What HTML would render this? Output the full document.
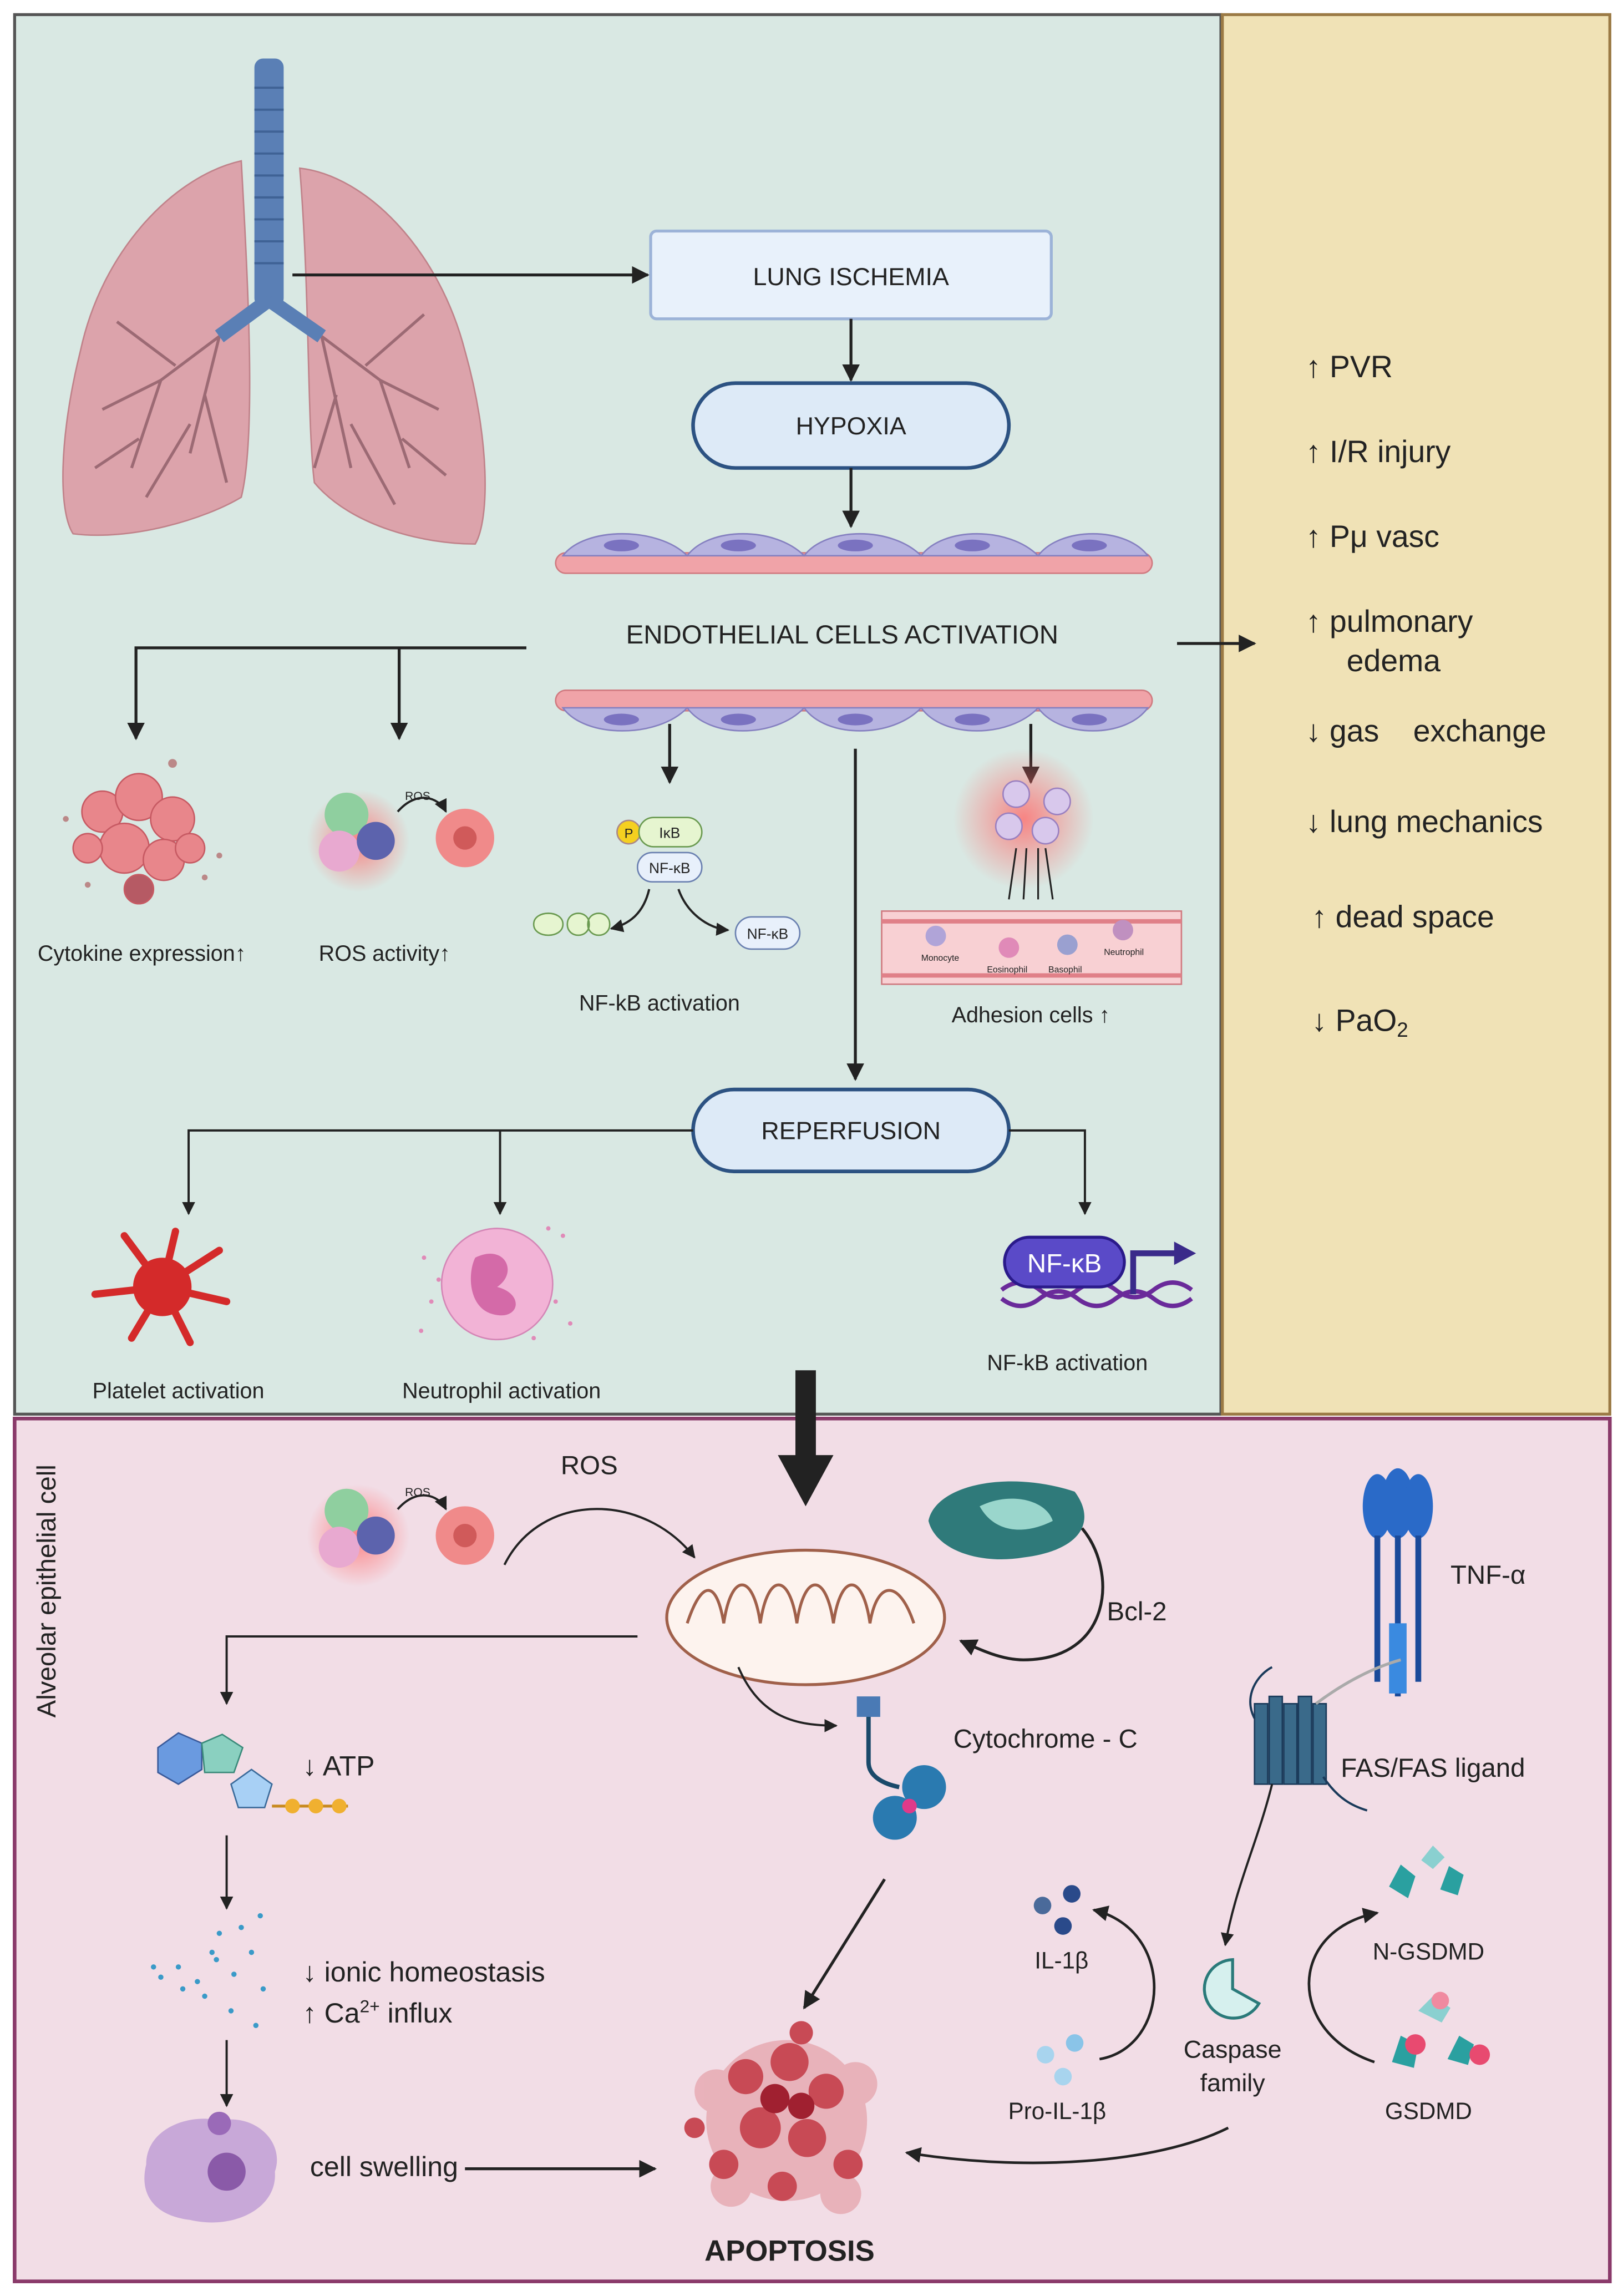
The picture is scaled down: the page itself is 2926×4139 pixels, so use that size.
<!DOCTYPE html>
<html><head><meta charset="utf-8"><style>
html,body{margin:0;padding:0;background:#fff}
svg{display:block}
text{font-family:"Liberation Sans",sans-serif;fill:#222}
</style></head><body>
<svg width="2926" height="4139" viewBox="0 0 1110 1570" preserveAspectRatio="none" xmlns="http://www.w3.org/2000/svg">
<defs>
<marker id="ah" viewBox="0 0 10 10" refX="9" refY="5" markerWidth="6" markerHeight="6" orient="auto"><path d="M0,0 L10,5 L0,10 z" fill="#222"/></marker>
<radialGradient id="glow"><stop offset="0" stop-color="#ff6b6b" stop-opacity=".8"/><stop offset="1" stop-color="#ff6b6b" stop-opacity="0"/></radialGradient>
</defs>
<rect width="1110" height="1570" fill="#fff"/>
<rect x="10" y="10" width="825" height="957" fill="#d9e8e3" stroke="#555" stroke-width="2"/>
<rect x="836" y="10" width="265" height="957" fill="#f0e2b6" stroke="#9b7a45" stroke-width="2"/>
<rect x="10" y="970" width="1091" height="590" fill="#f2dde6" stroke="#8a3a6a" stroke-width="2.5"/>

<!-- lungs -->
<path d="M165,110 C120,120 70,170 55,240 C40,300 40,350 50,365 C90,370 140,355 165,340 C175,300 170,200 165,110z" fill="#dca3ab" stroke="#c0828a"/>
<path d="M205,115 C250,120 300,170 318,240 C335,300 335,355 325,372 C290,372 240,360 215,330 C210,290 212,200 205,115z" fill="#dca3ab" stroke="#c0828a"/>
<path d="M150,230 L110,260 L90,320 M150,230 L130,310 M110,260 L70,280 M120,250 L80,220 M130,290 L100,340 M95,300 L65,320 M140,270 L155,330 M220,230 L260,260 L280,320 M220,230 L240,320 M260,260 L300,280 M250,250 L290,215 M240,290 L270,345 M275,300 L305,325 M230,270 L215,320" stroke="#9c6a74" stroke-width="2" fill="none"/>
<rect x="174" y="40" width="20" height="170" rx="6" fill="#5a7fb5"/>
<g stroke="#3f6295" stroke-width="1.5"><line x1="174" y1="60" x2="194" y2="60"/><line x1="174" y1="75" x2="194" y2="75"/><line x1="174" y1="90" x2="194" y2="90"/><line x1="174" y1="105" x2="194" y2="105"/><line x1="174" y1="120" x2="194" y2="120"/><line x1="174" y1="135" x2="194" y2="135"/><line x1="174" y1="150" x2="194" y2="150"/><line x1="174" y1="165" x2="194" y2="165"/><line x1="174" y1="180" x2="194" y2="180"/></g>
<path d="M184,205 L150,230 M184,205 L220,230" stroke="#5a7fb5" stroke-width="10"/>

<line x1="200" y1="188" x2="443" y2="188" stroke="#222" stroke-width="2" marker-end="url(#ah)"/>
<rect x="445" y="158" width="274" height="60" rx="4" fill="#e8f1fb" stroke="#9cb3d8" stroke-width="2"/>
<text x="582" y="195" font-size="17" text-anchor="middle">LUNG ISCHEMIA</text>
<line x1="582" y1="218" x2="582" y2="260" stroke="#222" stroke-width="2" marker-end="url(#ah)"/>
<rect x="474" y="262" width="216" height="58" rx="29" fill="#ddeaf7" stroke="#2c5282" stroke-width="2.5"/>
<text x="582" y="297" font-size="17" text-anchor="middle">HYPOXIA</text>
<line x1="582" y1="320" x2="582" y2="360" stroke="#222" stroke-width="2" marker-end="url(#ah)"/>

<g>
<rect x="380" y="378" width="408" height="14" rx="7" fill="#f0a3a8" stroke="#d07a80"/>
<path d="M385,380 C400,360 450,360 470,380 C485,360 530,360 550,380 C565,360 610,360 630,380 C645,360 690,360 710,380 C725,360 770,360 785,380z" fill="#b6b3e0" stroke="#8580c0"/>
<ellipse cx="425" cy="373" rx="12" ry="4" fill="#7a72c0"/><ellipse cx="505" cy="373" rx="12" ry="4" fill="#7a72c0"/><ellipse cx="585" cy="373" rx="12" ry="4" fill="#7a72c0"/><ellipse cx="665" cy="373" rx="12" ry="4" fill="#7a72c0"/><ellipse cx="745" cy="373" rx="12" ry="4" fill="#7a72c0"/>
<rect x="380" y="472" width="408" height="14" rx="7" fill="#f0a3a8" stroke="#d07a80"/>
<path d="M385,484 C400,505 450,505 470,484 C485,505 530,505 550,484 C565,505 610,505 630,484 C645,505 690,505 710,484 C725,505 770,505 785,484z" fill="#b6b3e0" stroke="#8580c0"/>
<ellipse cx="425" cy="492" rx="12" ry="4" fill="#7a72c0"/><ellipse cx="505" cy="492" rx="12" ry="4" fill="#7a72c0"/><ellipse cx="585" cy="492" rx="12" ry="4" fill="#7a72c0"/><ellipse cx="665" cy="492" rx="12" ry="4" fill="#7a72c0"/><ellipse cx="745" cy="492" rx="12" ry="4" fill="#7a72c0"/>
</g>
<text x="576" y="440" font-size="18" text-anchor="middle">ENDOTHELIAL CELLS ACTIVATION</text>
<line x1="805" y1="440" x2="858" y2="440" stroke="#222" stroke-width="2" marker-end="url(#ah)"/>

<path d="M360,443 H93 V505" stroke="#222" stroke-width="2" fill="none" marker-end="url(#ah)"/>
<line x1="273" y1="443" x2="273" y2="505" stroke="#222" stroke-width="2" marker-end="url(#ah)"/>
<g fill="#e8868b" stroke="#c75a63">
<circle cx="70" cy="555" r="14"/><circle cx="95" cy="545" r="16"/><circle cx="118" cy="560" r="15"/><circle cx="85" cy="580" r="17"/><circle cx="112" cy="588" r="14"/><circle cx="60" cy="580" r="10"/><circle cx="130" cy="580" r="10"/><circle cx="95" cy="608" r="10" fill="#b65a64"/>
</g>
<g fill="#b88"><circle cx="45" cy="560" r="2"/><circle cx="150" cy="585" r="2"/><circle cx="118" cy="522" r="3"/><circle cx="140" cy="600" r="2"/><circle cx="60" cy="605" r="2"/></g>
<text x="97" y="657" font-size="15" text-anchor="middle">Cytokine expression↑</text>
<circle cx="245" cy="575" r="35" fill="url(#glow)"/>
<circle cx="237" cy="557" r="15" fill="#8fcf9f"/><circle cx="232" cy="582" r="14" fill="#e8a9d0"/><circle cx="257" cy="575" r="13" fill="#5c63ad"/>
<circle cx="318" cy="573" r="20" fill="#f08a8a"/><circle cx="318" cy="573" r="8" fill="#d05a5a"/>
<path d="M272,555 C285,540 300,545 305,555" stroke="#222" fill="none" stroke-width="1.5" marker-end="url(#ah)"/>
<text x="277" y="547" font-size="8" fill="#b22">ROS</text>
<text x="263" y="657" font-size="15" text-anchor="middle">ROS  activity↑</text>

<line x1="458" y1="495" x2="458" y2="535" stroke="#222" stroke-width="2" marker-end="url(#ah)"/>
<circle cx="430" cy="569" r="8" fill="#f5d020" stroke="#a88"/><text x="430" y="573" font-size="9" text-anchor="middle">P</text>
<rect x="437" y="559" width="43" height="20" rx="10" fill="#e6f5d0" stroke="#6a9a50"/><text x="458" y="573" font-size="10" text-anchor="middle">IκB</text>
<rect x="436" y="583" width="44" height="20" rx="10" fill="#e8f0fb" stroke="#6a80b0"/><text x="458" y="597" font-size="10" text-anchor="middle">NF-κB</text>
<path d="M444,608 C440,625 430,632 418,635" stroke="#222" fill="none" stroke-width="1.5" marker-end="url(#ah)"/>
<path d="M464,608 C470,625 485,635 498,636" stroke="#222" fill="none" stroke-width="1.5" marker-end="url(#ah)"/>
<path d="M365,632 c0,-10 20,-10 20,0 c0,10 -20,10 -20,0z M388,632 c0,-10 15,-10 15,0 c0,10 -15,10 -15,0z M402,632 c0,-10 15,-10 15,0 c0,10 -15,10 -15,0z" fill="#e6f5d0" stroke="#6a9a50"/>
<rect x="503" y="627" width="44" height="22" rx="11" fill="#e8f0fb" stroke="#6a80b0"/><text x="525" y="642" font-size="10" text-anchor="middle">NF-κB</text>
<text x="451" y="691" font-size="15" text-anchor="middle">NF-kB activation</text>

<line x1="705" y1="495" x2="705" y2="535" stroke="#222" stroke-width="2" marker-end="url(#ah)"/>
<circle cx="700" cy="560" r="48" fill="url(#glow)"/>
<circle cx="695" cy="543" r="9" fill="#d8c8ec" stroke="#9a80c0"/><circle cx="723" cy="548" r="9" fill="#d8c8ec" stroke="#9a80c0"/><circle cx="690" cy="565" r="9" fill="#d8c8ec" stroke="#9a80c0"/><circle cx="715" cy="568" r="9" fill="#d8c8ec" stroke="#9a80c0"/>
<path d="M690,615 L695,580 M700,615 L702,580 M710,615 L710,580 M720,615 L715,580" stroke="#222" stroke-width="1.2"/>
<rect x="603" y="623" width="205" height="50" fill="#f8d0d3" stroke="#d07a80"/>
<line x1="603" y1="630" x2="808" y2="630" stroke="#e08088" stroke-width="3"/><line x1="603" y1="667" x2="808" y2="667" stroke="#e08088" stroke-width="3"/>
<circle cx="640" cy="640" r="7" fill="#b0a4d8"/><circle cx="690" cy="648" r="7" fill="#e08ab8"/><circle cx="730" cy="646" r="7" fill="#9aa0d0"/><circle cx="768" cy="636" r="7" fill="#c090c0"/>
<text x="630" y="657" font-size="6">Monocyte</text><text x="675" y="665" font-size="6">Eosinophil</text><text x="717" y="665" font-size="6">Basophil</text><text x="755" y="653" font-size="6">Neutrophil</text>
<text x="705" y="699" font-size="15" text-anchor="middle">Adhesion cells ↑</text>

<line x1="585" y1="512" x2="585" y2="738" stroke="#222" stroke-width="2" marker-end="url(#ah)"/>
<rect x="474" y="745" width="216" height="56" rx="28" fill="#ddeaf7" stroke="#2c5282" stroke-width="2.5"/>
<text x="582" y="779" font-size="17" text-anchor="middle">REPERFUSION</text>
<path d="M474,773 H129 V830" stroke="#222" stroke-width="1.5" fill="none" marker-end="url(#ah)"/>
<line x1="342" y1="773" x2="342" y2="830" stroke="#222" stroke-width="1.5" marker-end="url(#ah)"/>
<path d="M690,773 H742 V830" stroke="#222" stroke-width="1.5" fill="none" marker-end="url(#ah)"/>
<circle cx="111" cy="880" r="20" fill="#d42a2a"/>
<path d="M111,880 L65,885 M111,880 L85,845 M111,880 L120,842 M111,880 L150,855 M111,880 L155,890 M111,880 L130,918 M111,880 L90,915" stroke="#d42a2a" stroke-width="5" stroke-linecap="round"/>
<text x="122" y="956" font-size="15" text-anchor="middle">Platelet activation</text>
<circle cx="340" cy="878" r="38" fill="#f2b3d6" stroke="#d486b6"/>
<path d="M325,860 C345,850 355,870 340,880 C360,885 355,905 335,898 C320,892 320,870 325,860z" fill="#d46aa8"/>
<g fill="#e08ab8"><circle cx="290" cy="860" r="1.5"/><circle cx="295" cy="890" r="1.5"/><circle cx="385" cy="845" r="1.5"/><circle cx="390" cy="905" r="1.5"/><circle cx="375" cy="840" r="1.5"/><circle cx="288" cy="910" r="1.5"/><circle cx="380" cy="890" r="1.5"/><circle cx="300" cy="875" r="1.5"/><circle cx="365" cy="915" r="1.5"/></g>
<text x="343" y="956" font-size="15" text-anchor="middle">Neutrophil activation</text>
<path d="M685,882 q13,-10 26,0 t26,0 t26,0 t26,0 t26,0" stroke="#6a2a9a" stroke-width="3" fill="none"/>
<path d="M685,888 q13,10 26,0 t26,0 t26,0 t26,0 t26,0" stroke="#6a2a9a" stroke-width="3" fill="none"/>
<rect x="687" y="846" width="82" height="34" rx="17" fill="#5a4ac8" stroke="#2a1a8a" stroke-width="2"/>
<text x="728" y="870" font-size="18" text-anchor="middle" style="fill:#fff">NF-κB</text>
<path d="M775,885 V857 H805" stroke="#3a2a8a" stroke-width="4" fill="none"/><path d="M803,849 L818,857 L803,865z" fill="#3a2a8a"/>
<text x="730" y="937" font-size="15" text-anchor="middle">NF-kB activation</text>

<g font-size="21">
<text x="893" y="258">↑ PVR</text>
<text x="893" y="316">↑ I/R injury</text>
<text x="893" y="374">↑ Pμ vasc</text>
<text x="893" y="432">↑ pulmonary</text>
<text x="921" y="459">edema</text>
<text x="893" y="507">↓ gas&#160;&#160;&#160;&#160;exchange</text>
<text x="893" y="569">↓ lung mechanics</text>
<text x="897" y="634">↑ dead space</text>
<text x="897" y="705">↓ PaO<tspan font-size="14" dy="4">2</tspan></text>
</g>

<rect x="544" y="937" width="14" height="60" fill="#222"/><path d="M532,995 L570,995 L551,1030z" fill="#222"/>

<text transform="translate(38,1088) rotate(-90)" font-size="18" text-anchor="middle">Alveolar epithelial cell</text>
<circle cx="245" cy="1050" r="35" fill="url(#glow)"/>
<circle cx="237" cy="1033" r="15" fill="#8fcf9f"/><circle cx="232" cy="1058" r="14" fill="#e8a9d0"/><circle cx="257" cy="1050" r="13" fill="#5c63ad"/>
<circle cx="318" cy="1050" r="20" fill="#f08a8a"/><circle cx="318" cy="1050" r="8" fill="#d05a5a"/>
<path d="M272,1032 C285,1017 300,1022 305,1032" stroke="#222" fill="none" stroke-width="1.5" marker-end="url(#ah)"/>
<text x="277" y="1023" font-size="8" fill="#b22">ROS</text>
<text x="403" y="1008" font-size="18" text-anchor="middle">ROS</text>
<path d="M345,1070 C370,1020 440,1020 475,1065" stroke="#222" stroke-width="1.5" fill="none" marker-end="url(#ah)"/>
<ellipse cx="551" cy="1106" rx="95" ry="46" fill="#fdf3ee" stroke="#a0604a" stroke-width="2"/>
<path d="M470,1110 C480,1080 490,1080 495,1110 C500,1075 515,1075 520,1110 C525,1075 540,1075 545,1110 C550,1075 565,1075 570,1110 C575,1075 590,1075 595,1110 C600,1080 615,1080 625,1110" stroke="#a0604a" stroke-width="2" fill="none"/>
<path d="M635,1040 C640,1015 690,1005 735,1020 C750,1040 740,1060 700,1065 C670,1070 640,1060 635,1040z" fill="#2f7a7a"/>
<path d="M670,1030 C690,1020 715,1025 720,1040 C700,1050 680,1048 670,1030z" fill="#9ad6cc"/>
<path d="M740,1045 C765,1075 760,1135 700,1135 C685,1135 670,1128 657,1122" stroke="#222" stroke-width="2" fill="none" marker-end="url(#ah)"/>
<text x="757" y="1108" font-size="18">Bcl-2</text>
<path d="M505,1140 C520,1175 545,1180 572,1180" stroke="#222" stroke-width="1.5" fill="none" marker-end="url(#ah)"/>
<rect x="586" y="1160" width="16" height="14" fill="#4a7ab5"/>
<path d="M594,1174 V1205 C594,1215 605,1220 615,1222" stroke="#1a4a6a" stroke-width="3" fill="none"/>
<circle cx="612" cy="1243" r="15" fill="#2a7ab0"/><circle cx="632" cy="1222" r="15" fill="#2a7ab0"/><circle cx="622" cy="1235" r="5" fill="#e03a8a"/>
<text x="652" y="1195" font-size="18">Cytochrome - C</text>
<line x1="605" y1="1285" x2="550" y2="1373" stroke="#222" stroke-width="2" marker-end="url(#ah)"/>
<path d="M436,1119 H155 V1165" stroke="#222" stroke-width="1.5" fill="none" marker-end="url(#ah)"/>
<path d="M108,1195 L122,1185 L138,1192 L138,1210 L122,1220 L108,1212z" fill="#6a9ae0" stroke="#3a5a9a"/>
<path d="M138,1192 L152,1186 L166,1195 L160,1212 L140,1212z" fill="#8ad0c0" stroke="#3a8a7a"/>
<path d="M158,1220 L172,1210 L186,1220 L181,1236 L163,1236z" fill="#a8d0f5" stroke="#3a6a9a"/>
<line x1="186" y1="1235" x2="238" y2="1235" stroke="#c88a20" stroke-width="2"/>
<circle cx="200" cy="1235" r="5" fill="#f0b030"/><circle cx="216" cy="1235" r="5" fill="#f0b030"/><circle cx="232" cy="1235" r="5" fill="#f0b030"/>
<text x="207" y="1214" font-size="19">↓ ATP</text>
<line x1="155" y1="1255" x2="155" y2="1305" stroke="#222" stroke-width="1.5" marker-end="url(#ah)"/>
<g fill="#3a9ac8"><circle cx="110" cy="1352" r="1.8"/><circle cx="122" cy="1345" r="1.8"/><circle cx="135" cy="1355" r="1.8"/><circle cx="148" cy="1340" r="1.8"/><circle cx="160" cy="1350" r="1.8"/><circle cx="172" cy="1335" r="1.8"/><circle cx="180" cy="1360" r="1.8"/><circle cx="150" cy="1322" r="1.8"/><circle cx="165" cy="1318" r="1.8"/><circle cx="140" cy="1365" r="1.8"/><circle cx="158" cy="1375" r="1.8"/><circle cx="175" cy="1385" r="1.8"/><circle cx="125" cy="1360" r="1.8"/><circle cx="178" cy="1310" r="1.8"/><circle cx="105" cy="1345" r="1.8"/><circle cx="145" cy="1335" r="1.8"/></g>
<text x="207" y="1355" font-size="19">↓ ionic homeostasis</text>
<text x="207" y="1383" font-size="19">↑ Ca<tspan font-size="12" dy="-7">2+</tspan><tspan dy="7"> influx</tspan></text>
<line x1="155" y1="1395" x2="155" y2="1440" stroke="#222" stroke-width="1.5" marker-end="url(#ah)"/>
<path d="M100,1480 C100,1455 130,1445 150,1450 C175,1445 195,1465 188,1485 C190,1510 160,1525 130,1518 C105,1515 95,1500 100,1480z" fill="#c8a8d8"/>
<circle cx="155" cy="1485" r="13" fill="#8a5aa8"/><circle cx="150" cy="1452" r="8" fill="#9a6ab8"/>
<text x="212" y="1488" font-size="19">cell swelling</text>
<line x1="318" y1="1483" x2="448" y2="1483" stroke="#222" stroke-width="2" marker-end="url(#ah)"/>
<g fill="#e6a8b0" opacity=".8"><circle cx="538" cy="1450" r="55"/><circle cx="490" cy="1430" r="15"/><circle cx="585" cy="1425" r="15"/><circle cx="500" cy="1495" r="14"/><circle cx="575" cy="1500" r="14"/></g>
<g fill="#c84a55"><circle cx="510" cy="1420" r="12"/><circle cx="540" cy="1410" r="13"/><circle cx="565" cy="1430" r="12"/><circle cx="520" cy="1455" r="14"/><circle cx="552" cy="1462" r="13"/><circle cx="495" cy="1480" r="10"/><circle cx="580" cy="1480" r="10"/><circle cx="535" cy="1495" r="10"/><circle cx="548" cy="1390" r="8"/><circle cx="475" cy="1455" r="7"/></g>
<g fill="#a02030"><circle cx="530" cy="1435" r="10"/><circle cx="548" cy="1440" r="9"/></g>
<text x="540" y="1546" font-size="20" font-weight="bold" text-anchor="middle">APOPTOSIS</text>
<g fill="#2a6ac8"><ellipse cx="942" cy="1030" rx="10" ry="22"/><ellipse cx="956" cy="1028" rx="11" ry="24"/><ellipse cx="970" cy="1030" rx="10" ry="22"/></g>
<path d="M942,1050 V1150 M956,1050 V1160 M970,1050 V1150" stroke="#1a4a9a" stroke-width="4"/>
<rect x="950" y="1110" width="12" height="48" fill="#3a8ae0"/>
<text x="992" y="1083" font-size="18">TNF-α</text>
<g fill="#3a6a8a" stroke="#1a3a5a"><rect x="858" y="1165" width="9" height="55"/><rect x="868" y="1160" width="9" height="60"/><rect x="878" y="1165" width="9" height="55"/><rect x="888" y="1160" width="9" height="60"/><rect x="898" y="1165" width="9" height="55"/></g>
<path d="M900,1165 C920,1150 940,1140 958,1135" stroke="#aaa" stroke-width="2" fill="none"/>
<path d="M858,1175 C850,1160 860,1145 870,1140 M905,1215 C915,1230 925,1235 935,1238" stroke="#1a3a5a" stroke-width="1.5" fill="none"/>
<text x="917" y="1215" font-size="18">FAS/FAS ligand</text>
<path d="M870,1220 C860,1260 845,1290 838,1330" stroke="#222" stroke-width="1.5" fill="none" marker-end="url(#ah)"/>
<path d="M843,1340 a20,20 0 1,0 18,30 l-18,-10z" fill="#d6f0ee" stroke="#2a7a7a" stroke-width="2"/>
<text x="843" y="1407" font-size="17" text-anchor="middle" fill="#444">Caspase</text>
<text x="843" y="1430" font-size="17" text-anchor="middle" fill="#444">family</text>
<circle cx="713" cy="1303" r="6" fill="#4a6a9a"/><circle cx="733" cy="1295" r="6" fill="#2a4a8a"/><circle cx="727" cy="1317" r="6" fill="#2a4a8a"/>
<text x="726" y="1346" font-size="16" text-anchor="middle" fill="#444">IL-1β</text>
<circle cx="715" cy="1405" r="6" fill="#a8d4ee"/><circle cx="735" cy="1397" r="6" fill="#8ac4e8"/><circle cx="727" cy="1420" r="6" fill="#a8d4ee"/>
<text x="723" y="1449" font-size="16" text-anchor="middle" fill="#444">Pro-IL-1β</text>
<path d="M752,1408 C800,1400 805,1320 748,1306" stroke="#222" stroke-width="1.8" fill="none" marker-end="url(#ah)"/>
<path d="M940,1410 C880,1390 880,1320 942,1308" stroke="#222" stroke-width="1.8" fill="none" marker-end="url(#ah)"/>
<g fill="#2aa0a0"><path d="M950,1290 l8,-15 l10,8 l-5,15z"/><path d="M985,1292 l6,-16 l10,6 l-4,14z"/><path d="M972,1272 l8,-10 l8,8 l-8,8z" fill="#8ad0d0"/></g>
<text x="977" y="1340" font-size="16" text-anchor="middle" fill="#444">N-GSDMD</text>
<g><path d="M952,1410 l6,-18 l12,6 l-3,16z" fill="#2aa0a0"/><circle cx="968" cy="1398" r="7" fill="#e84a70"/><path d="M990,1408 l8,-16 l10,6 l-4,14z" fill="#2aa0a0"/><circle cx="1012" cy="1405" r="7" fill="#e84a70"/><path d="M970,1375 l10,-10 l12,8 l-6,10z" fill="#8ad0d0"/><circle cx="985" cy="1368" r="6" fill="#f08aa0"/></g>
<text x="977" y="1449" font-size="16" text-anchor="middle" fill="#444">GSDMD</text>
<path d="M840,1455 C790,1480 700,1485 620,1472" stroke="#222" stroke-width="1.8" fill="none" marker-end="url(#ah)"/>
</svg>
</body></html>
